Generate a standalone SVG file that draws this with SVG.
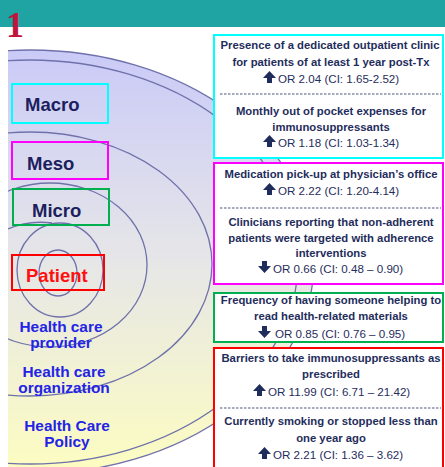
<svg xmlns="http://www.w3.org/2000/svg" width="445" height="467" viewBox="0 0 445 467">
<style>
.ring{fill:none;stroke:#6f72aa;stroke-width:1.3}
.lbl{font-family:"Liberation Sans",Arial,sans-serif;font-weight:bold;font-size:18.5px;fill:#1c1f5e}
.blue{font-family:"Liberation Sans",Arial,sans-serif;font-weight:bold;font-size:15.4px;fill:#2424e6;text-anchor:middle}
.t{font-family:"Liberation Sans",Arial,sans-serif;font-weight:bold;font-size:11.3px;fill:#1f2d5c;text-anchor:middle}
.or{font-family:"Liberation Sans",Arial,sans-serif;font-size:11.6px;fill:#1f2d5c}
.dash{stroke:#1f2d5c;stroke-width:0.8;stroke-dasharray:2.5 1.5}
.box{fill:#ffffff;stroke-width:2}
.arr{fill:#1f2d5c}
</style>
<defs>
<linearGradient id="g" gradientUnits="userSpaceOnUse" x1="0" y1="50" x2="0" y2="467">
<stop offset="0" stop-color="#cacaf8"/>
<stop offset="0.5" stop-color="#e6e6e8"/>
<stop offset="1" stop-color="#fcfcc2"/>
</linearGradient>
<clipPath id="c"><rect x="8" y="27" width="437" height="440"/></clipPath>
<path id="up" d="M0,-5 L6.5,-12 L13,-5 L9,-5 L9,0 L4,0 L4,-5 Z"/>
<path id="dn" d="M4,-12 L9,-12 L9,-7 L13,-7 L6.5,0 L0,-7 L4,-7 Z"/>
</defs>
<rect x="0" y="0" width="445" height="467" fill="#ffffff"/>
<rect x="0" y="0" width="445" height="27" fill="#20a3a3"/>
<text x="6" y="37" font-family="'Liberation Serif','Times New Roman',serif" font-weight="bold" font-size="36" fill="#c0143c">1</text>

<g id="circles" clip-path="url(#c)">
<ellipse cx="30" cy="262" rx="284" ry="212" fill="url(#g)" stroke="#6f72aa" stroke-width="1.3"/>
<ellipse class="ring" cx="30" cy="262" rx="268" ry="202"/>
<ellipse class="ring" cx="30" cy="264" rx="182" ry="132"/>
<ellipse class="ring" cx="50" cy="265" rx="97" ry="82"/>
<ellipse class="ring" cx="60" cy="270" rx="43" ry="47"/>
<path class="ring" d="M8,229 Q28,220 52,223"/>
<ellipse class="ring" cx="58" cy="273" rx="19" ry="23"/>
</g>

<g id="macro"><rect x="12" y="84" width="96" height="39" fill="none" stroke="#00ffff" stroke-width="2"/><text class="lbl" x="25" y="111">Macro</text></g>
<g id="meso"><rect x="12" y="142" width="96" height="37" fill="none" stroke="#ff00ff" stroke-width="2"/><text class="lbl" x="27" y="170">Meso</text></g>
<g id="micro"><rect x="13" y="189" width="96" height="36" fill="none" stroke="#00b050" stroke-width="2"/><text class="lbl" x="32" y="217">Micro</text></g>
<g id="patient"><rect x="12" y="255" width="92" height="35" fill="none" stroke="#ff0000" stroke-width="2"/><text class="lbl" x="26" y="282" style="fill:#ff1010">Patient</text></g>

<g id="provider"><text class="blue" x="61" y="332">Health care</text><text class="blue" x="61" y="348">provider</text></g>
<g id="organization"><text class="blue" x="64" y="377">Health care</text><text class="blue" x="64" y="393">organization</text></g>
<g id="policy"><text class="blue" x="67" y="431">Health Care</text><text class="blue" x="67" y="447">Policy</text></g>

<g id="macroBox">
<rect class="box" x="214" y="35" width="229" height="123" stroke="#00ffff"/>
<text class="t" x="330" y="49">Presence of a dedicated outpatient clinic</text>
<text class="t" x="331" y="66">for patients of at least 1 year post-Tx</text>
<use href="#up" x="263" y="83" class="arr"/><text class="or" x="278" y="83">OR 2.04 (CI: 1.65-2.52)</text>
<line class="dash" x1="220" y1="94" x2="441" y2="94"/>
<text class="t" x="331" y="115">Monthly out of pocket expenses for</text>
<text class="t" x="331" y="131">immunosuppressants</text>
<use href="#up" x="263" y="147" class="arr"/><text class="or" x="278" y="147">OR 1.18 (CI: 1.03-1.34)</text>
</g>

<g id="mesoBox">
<rect class="box" x="214" y="163" width="229" height="121" stroke="#ff00ff"/>
<text class="t" x="331" y="178">Medication pick-up at physician’s office</text>
<use href="#up" x="263" y="195" class="arr"/><text class="or" x="278" y="195">OR 2.22 (CI: 1.20-4.14)</text>
<line class="dash" x1="220" y1="208" x2="441" y2="208"/>
<text class="t" x="331" y="226">Clinicians reporting that non-adherent</text>
<text class="t" x="331" y="242">patients were targeted with adherence</text>
<text class="t" x="331" y="257">interventions</text>
<use href="#dn" x="258" y="273" class="arr"/><text class="or" x="273" y="273">OR 0.66 (CI: 0.48 – 0.90)</text>
</g>

<g id="microBox">
<rect class="box" x="214" y="293" width="229" height="49" stroke="#00b050"/>
<text class="t" x="331" y="304">Frequency of having someone helping to</text>
<text class="t" x="331" y="320">read health-related materials</text>
<use href="#dn" x="258" y="338" class="arr"/><text class="or" x="275" y="338">OR 0.85 (CI: 0.76 – 0.95)</text>
</g>

<g id="patientBox">
<rect class="box" x="214" y="348" width="229" height="125" stroke="#ff0000"/>
<text class="t" x="331" y="362">Barriers to take immunosuppressants as</text>
<text class="t" x="331" y="378">prescribed</text>
<use href="#up" x="253" y="396" class="arr"/><text class="or" x="268" y="396">OR 11.99 (CI: 6.71 – 21.42)</text>
<line class="dash" x1="220" y1="408" x2="441" y2="408"/>
<text class="t" x="331" y="425">Currently smoking or stopped less than</text>
<text class="t" x="331" y="442">one year ago</text>
<use href="#up" x="258" y="459" class="arr"/><text class="or" x="273" y="459">OR 2.21 (CI: 1.36 – 3.62)</text>
</g>
</svg>
